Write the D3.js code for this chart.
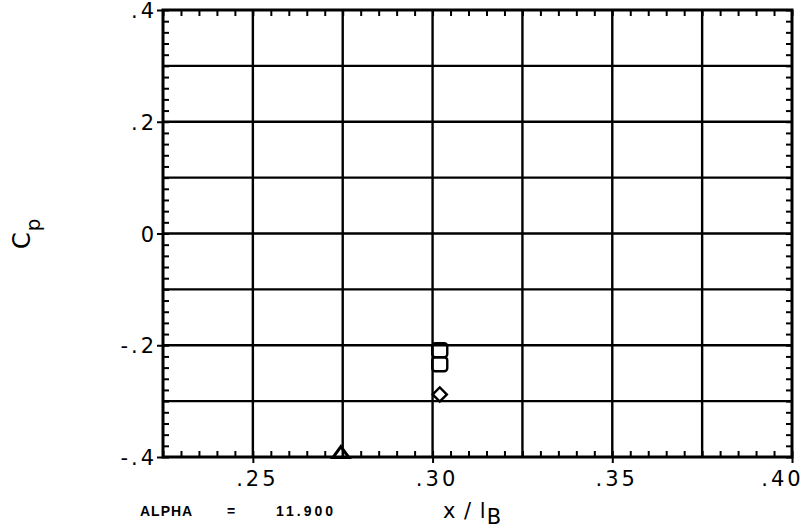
<!DOCTYPE html>
<html lang="en">
<head>
<meta charset="UTF-8">
<title>Cp vs x/lB</title>
<script src="https://cdn.jsdelivr.net/npm/d3@7"></script>
<style>
    body { margin: 0; background: #fff; }
    svg { display: block; }
    .lbl { font-family: "DejaVu Sans", sans-serif; font-size: 21px; fill: #000; letter-spacing: 3px; }
    .note { font-family: "Liberation Sans", sans-serif; font-size: 14px; font-weight: bold; fill: #000; }
</style>
</head>
<body>
<svg></svg>
<script>
    // data
    var squareX = [0.302, 0.302];
    var squareY = [-0.209, -0.234];
    var diamondX = [0.302];
    var diamondY = [-0.288];
    var triangleX = [0.2745];
    var triangleY = [-0.392];

    var xTicks = [0.25, 0.30, 0.35, 0.40];
    var xTickLabels = [".25", ".30", ".35", ".40"];
    var yTicks = [0.4, 0.2, 0, -0.2, -0.4];
    var yTickLabels = [".4", ".2", "0", "-.2", "-.4"];

    var W = 803, H = 530;
    // plot box (named so they don't clash with window.top etc.)
    var pL = 163, pR = 792, pT = 10, pB = 457;

    var svg = d3.select("svg").attr("width", W).attr("height", H);

    var x = d3.scaleLinear().domain([0.225, 0.40]).range([pL, pR]);
    var y = d3.scaleLinear().domain([-0.4, 0.4]).range([pB, pT]);

    // grid lines
    var xGrid = d3.range(0.25, 0.3999, 0.025);
    var yGrid = d3.range(-0.3, 0.3001, 0.1);
    svg.selectAll(".vg").data(xGrid).enter().append("line")
        .attr("x1", function (d) { return x(d); }).attr("x2", function (d) { return x(d); })
        .attr("y1", pT).attr("y2", pB)
        .attr("stroke", "#000").attr("stroke-width", 2.4);
    svg.selectAll(".hg").data(yGrid).enter().append("line")
        .attr("x1", pL).attr("x2", pR)
        .attr("y1", function (d) { return y(d); }).attr("y2", function (d) { return y(d); })
        .attr("stroke", "#000").attr("stroke-width", 2.4);

    // minor ticks, inside on all four sides
    var xMinor = d3.range(0.225, 0.4001, 0.005);
    var yMinor = d3.range(-0.4, 0.4001, 0.02);
    var tl = 6;
    svg.append("g").attr("transform", "translate(0," + pB + ")")
        .call(d3.axisTop(x).tickValues(xMinor).tickSize(tl).tickFormat(""));
    svg.append("g").attr("transform", "translate(0," + pT + ")")
        .call(d3.axisBottom(x).tickValues(xMinor).tickSize(tl).tickFormat(""));
    svg.append("g").attr("transform", "translate(" + pL + ",0)")
        .call(d3.axisRight(y).tickValues(yMinor).tickSize(tl).tickFormat(""));
    svg.append("g").attr("transform", "translate(" + pR + ",0)")
        .call(d3.axisLeft(y).tickValues(yMinor).tickSize(tl).tickFormat(""));

    // labelled axes with short outward ticks
    var xAxis = d3.axisBottom(x).tickValues(xTicks).tickSize(6)
        .tickFormat(function (d, i) { return xTickLabels[i]; });
    var gx = svg.append("g").attr("transform", "translate(0," + pB + ")").call(xAxis);
    var yAxis = d3.axisLeft(y).tickValues(yTicks).tickSize(6)
        .tickFormat(function (d, i) { return yTickLabels[i]; });
    var gy = svg.append("g").attr("transform", "translate(" + pL + ",0)").call(yAxis);

    svg.selectAll(".tick line").attr("stroke", "#000").attr("stroke-width", 2);
    svg.selectAll(".domain").remove();

    gx.selectAll("text").attr("class", "lbl").attr("y", 14).attr("dy", "0.71em")
        .attr("dx", function (d, i) { return i === xTicks.length - 1 ? -10 : 4; });
    gy.selectAll("text").attr("class", "lbl").attr("x", -6).attr("dy", "0.36em");

    // frame
    svg.append("rect").attr("x", pL).attr("y", pT)
        .attr("width", pR - pL).attr("height", pB - pT)
        .attr("fill", "none").attr("stroke", "#000").attr("stroke-width", 3);

    // markers
    var mk = svg.append("g").attr("fill", "none").attr("stroke", "#000").attr("stroke-width", 2.4);
    mk.selectAll(".sq").data(squareX).enter().append("rect")
        .attr("x", function (d) { return x(d) - 7.5; })
        .attr("y", function (d, i) { return y(squareY[i]) - 7; })
        .attr("width", 15).attr("height", 14).attr("rx", 3);
    mk.selectAll(".dm").data(diamondX).enter().append("path")
        .attr("d", d3.symbol().type(d3.symbolSquare).size(100))
        .attr("transform", function (d, i) { return "translate(" + x(d) + "," + y(diamondY[i]) + ") rotate(45)"; });
    mk.selectAll(".tr").data(triangleX).enter().append("path")
        .attr("d", "M0,-6L8,5L-8,5Z")
        .attr("stroke-width", 3)
        .attr("transform", function (d, i) { return "translate(" + x(d) + "," + y(triangleY[i]) + ")"; });

    // axis titles
    var xt = svg.append("text").attr("class", "lbl").attr("x", 443).attr("y", 518).style("letter-spacing", "1px");
    xt.append("tspan").text("x / l");
    xt.append("tspan").attr("dy", 6).text("B");

    var yt = svg.append("text").attr("class", "lbl")
        .attr("transform", "translate(30,249) rotate(-90)").style("font-size", "24px");
    yt.append("tspan").text("C");
    yt.append("tspan").attr("dy", 10).attr("dx", -2).style("font-size", "20px").text("p");

    svg.append("text").attr("class", "note").attr("x", 140).attr("y", 516).style("letter-spacing", "1px").text("ALPHA");
    svg.append("text").attr("class", "note").attr("x", 227).attr("y", 516).text("=");
    svg.append("text").attr("class", "note").attr("x", 276).attr("y", 516).style("letter-spacing", "3px").text("11.900");
</script>
</body>
</html>
